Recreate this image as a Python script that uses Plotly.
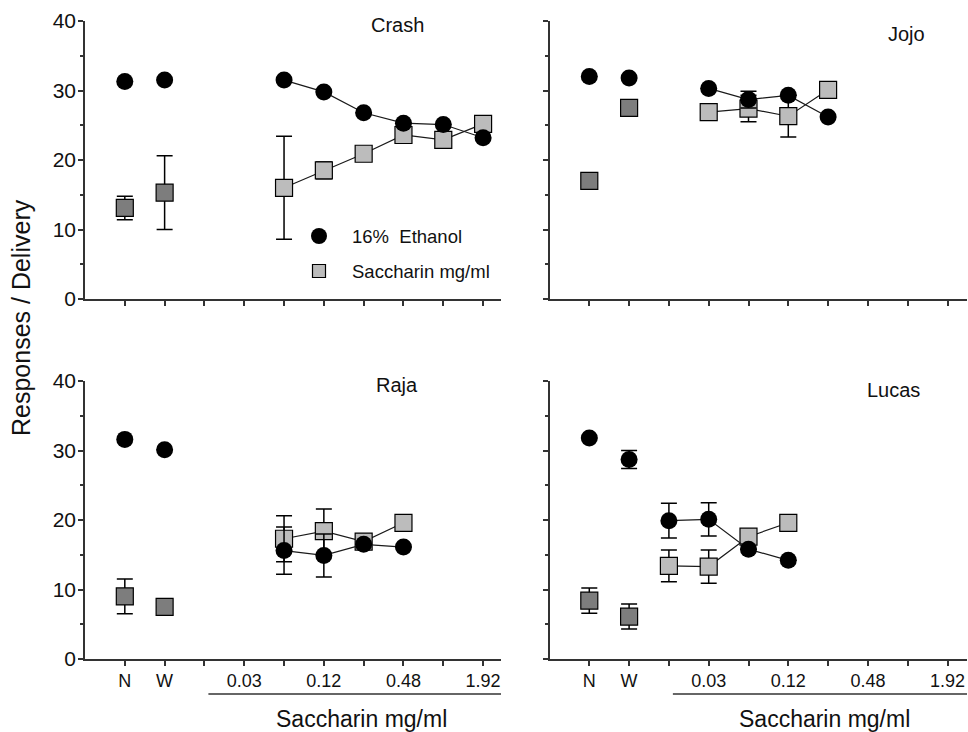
import plotly.graph_objects as go

# ---------------- data ----------------
positions = list(range(1, 11))
tick_labels = ["N", "W", "", "0.03", "", "0.12", "", "0.48", "", "1.92"]
base_x = [1, 2]
subjects = ["Crash", "Jojo", "Raja", "Lucas"]

crash_base_eth = [31.3, 31.5]
crash_base_eth_err = [0, 0]
crash_base_sac = [13.1, 15.3]
crash_base_sac_err = [1.7, 5.3]
crash_dose_x = [5, 6, 7, 8, 9, 10]
crash_eth = [31.5, 29.8, 26.8, 25.3, 25.1, 23.2]
crash_eth_err = [0, 0, 0, 0, 0, 0]
crash_sac = [16.0, 18.5, 20.9, 23.6, 22.9, 25.2]
crash_sac_err = [7.4, 1.2, 0, 0, 0, 0]

jojo_base_eth = [32.0, 31.8]
jojo_base_eth_err = [0, 0]
jojo_base_sac = [17.0, 27.5]
jojo_base_sac_err = [0, 0]
jojo_dose_x = [4, 5, 6, 7]
jojo_eth = [30.3, 28.7, 29.3, 26.2]
jojo_eth_err = [0, 1.2, 0, 0]
jojo_sac = [26.9, 27.4, 26.3, 30.1]
jojo_sac_err = [0, 1.9, 3.0, 0]

raja_base_eth = [31.6, 30.1]
raja_base_eth_err = [0, 0]
raja_base_sac = [9.0, 7.5]
raja_base_sac_err = [2.5, 0]
raja_dose_x = [5, 6, 7, 8]
raja_eth = [15.6, 14.9, 16.5, 16.1]
raja_eth_err = [3.4, 3.1, 0, 0]
raja_sac = [17.3, 18.4, 16.9, 19.6]
raja_sac_err = [3.3, 3.2, 0, 0]

lucas_base_eth = [31.8, 28.7]
lucas_base_eth_err = [0, 1.3]
lucas_base_sac = [8.4, 6.1]
lucas_base_sac_err = [1.8, 1.8]
lucas_dose_x = [3, 4, 5, 6]
lucas_eth = [19.9, 20.1, 15.8, 14.2]
lucas_eth_err = [2.5, 2.4, 0, 0]
lucas_sac = [13.4, 13.3, 17.6, 19.6]
lucas_sac_err = [2.3, 2.4, 0, 0]

legend_labels = ["16%  Ethanol", "Saccharin mg/ml"]
y_title = "Responses / Delivery"
x_title = "Saccharin mg/ml"

# ---------------- style ----------------
W, H = 968, 732
FONT = "Arial, 'Liberation Sans', sans-serif"
AX = "#333333"
DARK_SQ = "#7d7d7d"
LIGHT_SQ = "#bcbcbc"

def px_x(p):
    return p / W

def px_y(p):
    return 1 - p / H

panels = [
    dict(name="Crash", xa="x", ya="y", bx=crash_base_eth, bxe=crash_base_eth_err,
         bs=crash_base_sac, bse=crash_base_sac_err, dx=crash_dose_x,
         e=crash_eth, ee=crash_eth_err, s=crash_sac, se=crash_sac_err),
    dict(name="Jojo", xa="x2", ya="y2", bx=jojo_base_eth, bxe=jojo_base_eth_err,
         bs=jojo_base_sac, bse=jojo_base_sac_err, dx=jojo_dose_x,
         e=jojo_eth, ee=jojo_eth_err, s=jojo_sac, se=jojo_sac_err),
    dict(name="Raja", xa="x3", ya="y3", bx=raja_base_eth, bxe=raja_base_eth_err,
         bs=raja_base_sac, bse=raja_base_sac_err, dx=raja_dose_x,
         e=raja_eth, ee=raja_eth_err, s=raja_sac, se=raja_sac_err),
    dict(name="Lucas", xa="x4", ya="y4", bx=lucas_base_eth, bxe=lucas_base_eth_err,
         bs=lucas_base_sac, bse=lucas_base_sac_err, dx=lucas_dose_x,
         e=lucas_eth, ee=lucas_eth_err, s=lucas_sac, se=lucas_sac_err),
]

def err(arr):
    return dict(type="data", array=arr, visible=True, color="black",
                thickness=1.5, width=8)

circle = dict(symbol="circle", size=17, color="black", line=dict(width=0))
sq_dark = dict(symbol="square", size=17, color=DARK_SQ, line=dict(width=1.2, color="black"))
sq_light = dict(symbol="square", size=17, color=LIGHT_SQ, line=dict(width=1.2, color="black"))
conn = dict(color="#1a1a1a", width=1.2)

fig = go.Figure()
for p in panels:
    fig.add_trace(go.Scatter(x=base_x, y=p["bs"], mode="markers", marker=sq_dark,
                             error_y=err(p["bse"]), xaxis=p["xa"], yaxis=p["ya"],
                             showlegend=False, cliponaxis=False))
    fig.add_trace(go.Scatter(x=p["dx"], y=p["s"], mode="lines+markers", marker=sq_light,
                             line=conn, error_y=err(p["se"]), xaxis=p["xa"], yaxis=p["ya"],
                             showlegend=False, cliponaxis=False))
    fig.add_trace(go.Scatter(x=base_x, y=p["bx"], mode="markers", marker=circle,
                             error_y=err(p["bxe"]), xaxis=p["xa"], yaxis=p["ya"],
                             showlegend=False, cliponaxis=False))
    fig.add_trace(go.Scatter(x=p["dx"], y=p["e"], mode="lines+markers", marker=circle,
                             line=conn, error_y=err(p["ee"]), xaxis=p["xa"], yaxis=p["ya"],
                             showlegend=False, cliponaxis=False))

fig.add_trace(go.Scatter(x=[None], y=[None], mode="markers",
                         marker=dict(symbol="circle", size=18, color="black"),
                         name=legend_labels[0], legend="legend", xaxis="x", yaxis="y"))
fig.add_trace(go.Scatter(x=[None], y=[None], mode="markers",
                         marker=dict(symbol="square", size=13, color=LIGHT_SQ,
                                     line=dict(width=1.2, color="black")),
                         name=legend_labels[1], legend="legend2", xaxis="x", yaxis="y"))

def xaxis(domain, rng, anchor, labels):
    return dict(domain=domain, range=rng, anchor=anchor, showline=True, linecolor=AX,
                linewidth=1.5, ticks="outside", ticklen=5, tickwidth=1.5, tickcolor=AX,
                tickvals=positions, ticktext=tick_labels, showticklabels=labels,
                tickfont=dict(family=FONT, size=18, color="#111"),
                showgrid=False, zeroline=False, automargin=False, fixedrange=True)

def yaxis(domain, anchor, labels):
    return dict(domain=domain, range=[0, 40], anchor=anchor, showline=True, linecolor=AX,
                linewidth=1.5, ticks="outside", ticklen=5, tickwidth=1.5, tickcolor=AX,
                tickvals=[0, 10, 20, 30, 40], showticklabels=labels,
                ticklabelstandoff=-2,
                minor=dict(tickvals=[5, 15, 25, 35], ticks="outside", ticklen=3,
                           tickwidth=1.5, tickcolor=AX),
                tickfont=dict(family=FONT, size=21, color="#111"),
                showgrid=False, zeroline=False, automargin=False, fixedrange=True)

left_dom = [px_x(85), px_x(501)]
right_dom = [px_x(549.5), px_x(967)]
top_dom = [px_y(299), px_y(21)]
bot_dom = [px_y(659), px_y(381)]

annotations = [
    dict(text=subjects[0], x=px_x(397), y=px_y(25)),
    dict(text=subjects[1], x=px_x(906), y=px_y(34)),
    dict(text=subjects[2], x=px_x(397), y=px_y(385)),
    dict(text=subjects[3], x=px_x(893), y=px_y(390)),
]
for a in annotations:
    a.update(xref="paper", yref="paper", showarrow=False, xanchor="center", yanchor="middle",
             font=dict(family=FONT, size=20, color="#111"))
annotations += [
    dict(text=x_title, x=px_x(361), y=px_y(719), xref="paper", yref="paper", showarrow=False,
         xanchor="center", yanchor="middle", font=dict(family=FONT, size=23, color="#111")),
    dict(text=x_title, x=px_x(824), y=px_y(719), xref="paper", yref="paper", showarrow=False,
         xanchor="center", yanchor="middle", font=dict(family=FONT, size=23, color="#111")),
    dict(text=y_title, x=px_x(21), y=px_y(318), xref="paper", yref="paper", showarrow=False,
         xanchor="center", yanchor="middle", textangle=-90,
         font=dict(family=FONT, size=25, color="#111")),
]

shapes = [
    dict(type="line", xref="x3", yref="paper", x0=3.1, x1=10.45, y0=px_y(694), y1=px_y(694),
         line=dict(color=AX, width=1.5)),
    dict(type="line", xref="x4", yref="paper", x0=3.1, x1=10.49, y0=px_y(694), y1=px_y(694),
         line=dict(color=AX, width=1.5)),
]

leg_common = dict(xanchor="left", yanchor="middle", bgcolor="rgba(0,0,0,0)",
                  borderwidth=0, itemwidth=56, itemsizing="trace",
                  font=dict(family=FONT, size=18.5, color="#111"))

fig.update_layout(
    width=W, height=H, autosize=False,
    margin=dict(l=0, r=0, t=0, b=0, pad=0),
    paper_bgcolor="white", plot_bgcolor="white",
    template="none",
    font=dict(family=FONT, color="#111"),
    xaxis=xaxis(left_dom, [0, 10.45], "y", False),
    xaxis2=xaxis(right_dom, [0, 10.49], "y2", False),
    xaxis3=xaxis(left_dom, [0, 10.45], "y3", True),
    xaxis4=xaxis(right_dom, [0, 10.49], "y4", True),
    yaxis=yaxis(top_dom, "x", True),
    yaxis2=yaxis(top_dom, "x2", False),
    yaxis3=yaxis(bot_dom, "x3", True),
    yaxis4=yaxis(bot_dom, "x4", False),
    legend=dict(x=px_x(286), y=px_y(236.5), **leg_common),
    legend2=dict(x=px_x(286), y=px_y(271.5), **leg_common),
    annotations=annotations,
    shapes=shapes,
    showlegend=True,
)

fig.write_html("out.html")
